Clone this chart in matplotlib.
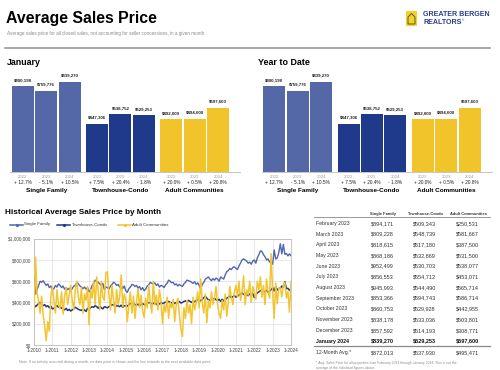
import matplotlib
matplotlib.use("Agg")
import matplotlib.pyplot as plt
from matplotlib.lines import Line2D
from matplotlib.patches import Rectangle, Polygon

plt.rcParams['font.family'] = ['Liberation Sans', 'DejaVu Sans']

# ---- data ----
groups = ['Single Family', 'Townhouse-Condo', 'Adult Communities']
years = ['2022', '2023', '2024']
jan_values = [[800198, 759776, 839270], [447306, 538752, 529253], [492000, 494600, 597600]]
jan_changes = [['+ 12.7%', '- 5.1%', '+ 10.5%'], ['+ 7.5%', '+ 20.4%', '- 1.8%'], ['+ 20.0%', '+ 0.5%', '+ 20.8%']]
ytd_values = [[800198, 759776, 839270], [447306, 538752, 529253], [492000, 494600, 597600]]
ytd_changes = [['+ 12.7%', '- 5.1%', '+ 10.5%'], ['+ 7.5%', '+ 20.4%', '- 1.8%'], ['+ 20.0%', '+ 0.5%', '+ 20.8%']]

# monthly history, thousands of dollars, 1-2010 .. 1-2024
sf_hist = [640, 480, 520, 560, 600, 590, 605, 580, 560, 575, 540, 555,
           520, 530, 560, 545, 575, 560, 540, 555, 525, 540, 520, 535,
           510, 530, 555, 560, 590, 575, 555, 545, 530, 545, 525, 540,
           500, 520, 560, 580, 610, 600, 590, 575, 560, 580, 520, 545,
           540, 525, 555, 570, 590, 580, 560, 570, 545, 560, 530, 555,
           510, 495, 530, 545, 570, 565, 550, 560, 535, 550, 520, 540,
           510, 525, 555, 565, 590, 580, 575, 585, 560, 575, 545, 560,
           555, 540, 565, 580, 610, 600, 585, 590, 565, 575, 555, 570,
           560, 550, 575, 590, 610, 605, 600, 590, 580, 595, 570, 585,
           560, 530, 570, 590, 620, 630, 640, 620, 605, 625, 610, 630,
           620, 600, 640, 630, 620, 660, 690, 700, 720, 710, 730, 735,
           720, 710, 745, 770, 800, 810, 800, 790, 770, 780, 760, 790,
           800, 770, 820, 850, 885, 880, 850, 830, 800, 810, 780, 790,
           760, 894, 809, 819, 868, 952, 857, 946, 853, 861, 838, 858,
           839]
tc_hist = [380, 360, 375, 390, 400, 385, 370, 380, 360, 370, 350, 365,
           340, 345, 360, 370, 355, 365, 345, 340, 330, 345, 325, 335,
           320, 330, 340, 355, 345, 335, 330, 325, 340, 330, 315, 345,
           340, 350, 360, 355, 370, 360, 345, 365, 350, 340, 360, 355,
           350, 360, 370, 380, 375, 385, 365, 370, 360, 375, 355, 370,
           370, 365, 380, 390, 385, 395, 380, 375, 385, 370, 380, 390,
           380, 375, 390, 400, 395, 385, 390, 400, 380, 395, 385, 400,
           390, 395, 405, 400, 410, 400, 395, 405, 390, 400, 395, 410,
           395, 400, 410, 415, 405, 420, 410, 400, 415, 405, 420, 430,
           410, 420, 430, 445, 460, 440, 425, 420, 435, 430, 440, 425,
           420, 430, 410, 430, 415, 425, 440, 450, 460, 445, 455, 465,
           450, 460, 470, 480, 490, 475, 485, 470, 465, 480, 470, 485,
           447, 470, 490, 500, 510, 520, 505, 500, 515, 495, 505, 520,
           539, 509, 549, 517, 533, 531, 555, 544, 595, 530, 533, 514,
           529]
ac_hist = [280, 825, 480, 420, 300, 460, 280, 180, 40, 220, 130, 450,
           550, 420, 300, 520, 380, 340, 500, 290, 460, 540, 380, 470,
           560, 420, 330, 520, 600, 450, 380, 540, 300, 480, 420, 550,
           190, 520, 440, 600, 380, 640, 500, 330, 600, 450, 420, 680,
           690, 480, 330, 560, 420, 300, 520, 380, 450, 660, 360, 480,
           420, 220, 380, 500, 300, 460, 250, 400, 530, 350, 470, 320,
           260, 440, 350, 560, 400, 300, 600, 380, 470, 330, 520, 420,
           200, 380, 310, 450, 250, 400, 350, 430, 220, 380, 440, 300,
           150, 80, 350, 250, 420, 300, 380, 200, 450, 330, 400, 500,
           350, 620, 400, 300, 480, 210, 420, 350, 500, 380, 450, 550,
           380, 300, 250, 420, 330, 480, 270, 400, 550, 450, 380, 500,
           560, 450, 600, 420, 500, 650, 380, 520, 470, 600, 400, 550,
           492, 430, 600, 520, 640, 450, 560, 380, 620, 500, 440, 860,
           495, 251, 582, 388, 532, 538, 453, 566, 587, 443, 504, 309,
           598]
x_tick_labels = ['1-%d' % y for y in range(2010, 2025)]
y_ticks = [0, 200000, 400000, 600000, 800000, 1000000]

table_months = ['February 2023', 'March 2023', 'April 2023', 'May 2023', 'June 2023', 'July 2023',
                'August 2023', 'September 2023', 'October 2023', 'November 2023', 'December 2023',
                'January 2024', '12-Month Avg.*']
table_sf = [894171, 809228, 818615, 868186, 952499, 856553, 945993, 853366, 860753, 838178, 857592, 839270, 872013]
table_tc = [509343, 548739, 517180, 532869, 530703, 554712, 544490, 594743, 529928, 533036, 514193, 529253, 537930]
table_ac = [250531, 581667, 387500, 531500, 538077, 453071, 565714, 586714, 442955, 503801, 308771, 597600, 495471]

colors = ['#5468a8', '#1f3a8a', '#f2c42b']
line_colors = ['#5067ad', '#1d388c', '#f3c530']
NARROW = ['Liberation Sans Narrow', 'Liberation Sans', 'DejaVu Sans']

W, H = 500, 370
fig = plt.figure(figsize=(5, 3.7), dpi=100)


def T(x, y, s, **kw):
    """text at pixel position"""
    kw.setdefault('va', 'center')
    fig.text(x / W, 1 - y / H, s, **kw)


def px_axes(l, t, r, b):
    return fig.add_axes([l / W, 1 - b / H, (r - l) / W, (b - t) / H])


def hline(x0, x1, y, color='#999999', lw=0.8):
    fig.add_artist(Line2D([x0 / W, x1 / W], [1 - y / H, 1 - y / H], color=color, lw=lw))


def draw_header():
    T(6, 19, 'Average Sales Price', fontsize=11.4, fontweight='bold', family=NARROW)
    T(7, 33.5, 'Average sales price for all closed sales, not accounting for seller concessions, in a given month.',
      fontsize=3.3, color='#8a8a8a')
    hline(5, 490, 48, color='#9a9a9a', lw=1.2)
    # logo
    fig.add_artist(Rectangle((406 / W, 1 - 26 / H), 11 / W, 15 / H, transform=fig.transFigure,
                             facecolor='#f2d22e', edgecolor='none'))
    fig.add_artist(Polygon([(408 / W, 1 - 24 / H), (408 / W, 1 - 17 / H), (411.5 / W, 1 - 13.5 / H),
                            (415 / W, 1 - 17 / H), (415 / W, 1 - 24 / H)], closed=True,
                           transform=fig.transFigure, facecolor='none', edgecolor='#4b4420', lw=0.6))
    T(423, 15, 'GREATER BERGEN', fontsize=5.1, fontweight='bold', color='#2c3f8f')
    T(423, 23, 'REALTORS', fontsize=5.1, fontweight='bold', color='#2c3f8f')
    T(462, 20, '®', fontsize=2, color='#2c3f8f')


def draw_bar_panel(left, title, values, changes):
    T(left - 3, 62.5, title, fontsize=6.4, fontweight='bold', family=NARROW)
    ax = px_axes(left, 75, left + 230, 172)
    step = 3.17
    for g in range(3):
        for i in range(3):
            xpos = g * step + i
            v = values[g][i]
            ax.bar(xpos, v, width=0.94, color=colors[g])
            ax.annotate('$%s' % format(v, ','), (xpos, v), xytext=(0, 3), textcoords='offset points',
                        ha='center', va='bottom', fontsize=3.2, fontweight='bold', color='#222222')
            xf = (left + (xpos + 0.55) * 230 / 9.83) / W
            fig.text(xf, 1 - 177 / H, years[i], ha='center', va='center', fontsize=3.1, color='#9a9a9a')
            fig.text(xf, 1 - 182.5 / H, changes[g][i], ha='center', va='center', fontsize=3.4, color='#222222')
        xg = (left + (g * step + 1 + 0.55) * 230 / 9.83) / W
        fig.text(xg, 1 - 190.5 / H, groups[g], ha='center', va='center', fontsize=4.6, fontweight='bold')
    ax.set_xlim(-0.55, 9.28)
    ax.set_ylim(0, 904500)
    for s in ['top', 'right', 'left']:
        ax.spines[s].set_visible(False)
    ax.spines['bottom'].set_color('#bbbbbb')
    ax.spines['bottom'].set_linewidth(0.6)
    ax.set_xticks([])
    ax.set_yticks([])


def draw_history():
    T(5, 212.5, 'Historical Average Sales Price by Month', fontsize=5.9, fontweight='bold', family=NARROW)
    names = groups
    xs = [(10, 23, 24), (57, 70, 71.5), (118, 131, 132.5)]
    for (a, b, t), c, n in zip(xs, line_colors, names):
        fig.add_artist(Line2D([a / W, b / W], [1 - 224.5 / H] * 2, color=c, lw=1.1))
        fig.add_artist(Line2D([(a + b) / 2 / W], [1 - 224.5 / H], color=c, marker='o', ms=1.3, lw=0))
        T(t, 224.5, n, fontsize=3.2, color='#333333')

    ax = px_axes(34, 238.7, 291, 345)
    idx = list(range(len(sf_hist)))
    ax.plot(idx, [v * 1000 for v in sf_hist], color=line_colors[0], lw=1.0, zorder=3)
    ax.plot(idx, [v * 1000 for v in tc_hist], color=line_colors[1], lw=1.1, zorder=3)
    ax.plot(idx, [v * 1000 for v in ac_hist], color=line_colors[2], lw=1.1, zorder=4)
    ax.set_xlim(0, 168)
    ax.set_ylim(0, 1000000)
    ax.set_xticks(range(0, 169, 12))
    ax.set_xticklabels(x_tick_labels)
    ax.set_yticks(y_ticks)
    ax.set_yticklabels(['$%s' % format(v, ',') for v in y_ticks])
    ax.tick_params(length=0, labelsize=3.4, pad=2, colors='#444444')
    ax.grid(True, color='#dddddd', lw=0.5)
    ax.set_axisbelow(True)
    for s in ax.spines.values():
        s.set_color('#bbbbbb')
        s.set_linewidth(0.6)
    T(19, 362, 'Note: If no activity occurred during a month, no data point is shown and the line extends to the next available data point.',
      fontsize=2.6, color='#8a8a8a')


def money(v):
    return '$%s' % format(v, ',')


def draw_table():
    T(370.5, 214, 'Single Family', fontsize=2.9, fontweight='bold', color='#333333')
    T(407.5, 214, 'Townhouse-Condo', fontsize=2.9, fontweight='bold', color='#333333')
    T(450, 214, 'Adult Communities', fontsize=2.9, fontweight='bold', color='#333333')
    hline(314, 490, 217, color='#888888', lw=0.6)
    y = 223.3
    for k, m in enumerate(table_months):
        wt = 'bold' if m == 'January 2024' else 'normal'
        col = '#111111' if wt == 'bold' else '#333333'
        yy = y + k * 10.7
        if m.startswith('12-Month'):
            yy += 0.7
        T(315.5, yy, m, fontsize=3.7, fontweight=wt, color=col)
        T(370.5, yy, money(table_sf[k]), fontsize=4.0, fontweight=wt, color=col)
        T(413, yy, money(table_tc[k]), fontsize=4.0, fontweight=wt, color=col)
        T(456, yy, money(table_ac[k]), fontsize=4.0, fontweight=wt, color=col)
    hline(314, 490, 346, color='#888888', lw=0.9)
    T(316, 363, '* Avg. Sales Price for all properties from February 2023 through January 2024. This is not the',
      fontsize=2.4, color='#8a8a8a')
    T(316, 368, 'average of the individual figures above.', fontsize=2.4, color='#8a8a8a')


def main():
    draw_header()
    draw_bar_panel(10, 'January', jan_values, jan_changes)
    draw_bar_panel(261.5, 'Year to Date', ytd_values, ytd_changes)
    draw_history()
    draw_table()
    fig.savefig('out.png', dpi=100)


if __name__ == "__main__":
    main()
